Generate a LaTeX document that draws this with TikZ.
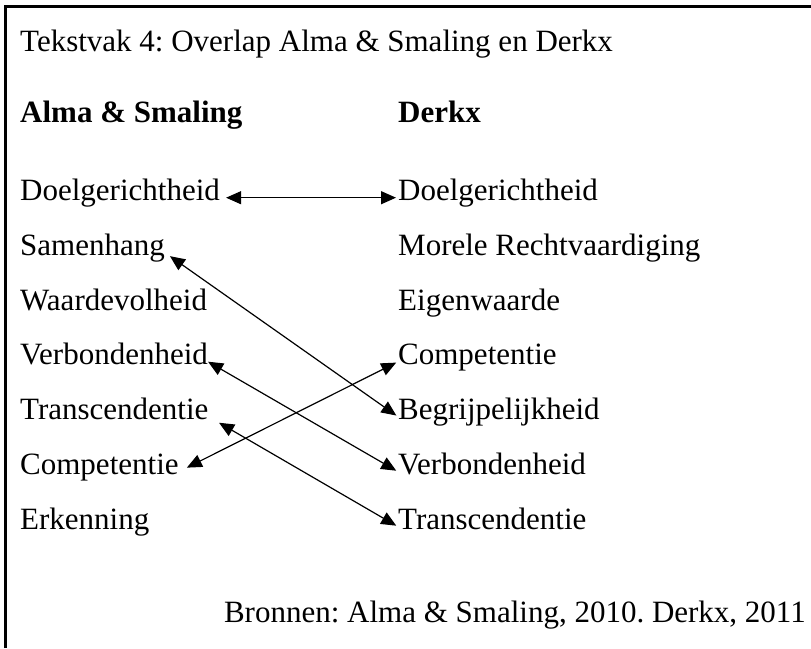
\documentclass[tikz,border=0pt]{standalone}
\usepackage{fontspec}
\setmainfont{Liberation Serif}
\usetikzlibrary{arrows.meta}
\frenchspacing

\begin{document}
\begin{tikzpicture}[x=1pt,y=-1pt,
    woord/.style={
      anchor=base west,
      inner sep=0pt,
      text height=0.68em,
      text depth=0.22em,
      font=\fontsize{31}{36}\selectfont
    },
    kop/.style={
      woord,
      font=\fontsize{31}{36}\selectfont\bfseries
    },
    arr/.style={
      {Triangle[length=15pt,width=13pt]}-{Triangle[length=15pt,width=13pt]},
      line width=1.2pt,
      shorten <=3pt,
      shorten >=2pt
    }
  ]
  \useasboundingbox (0,0) rectangle (811,648);
  \draw[line width=2.2pt] (5.5,648) -- (5.5,6.5) -- (811,6.5);

  \node[woord] (titel) at (20,51) {Tekstvak 4: Overlap Alma \& Smaling en Derkx};
  \node[kop] (kopL) at (20,122) {Alma \& Smaling};
  \node[kop] (kopR) at (398,122) {Derkx};

  % linkerkolom
  \node[woord] (doelL) at (20,200) {Doelgerichtheid};
  \node[woord] (samL)  at (20,255) {Samenhang};
  \node[woord] (waaL)  at (20,310) {Waardevolheid};
  \node[woord] (verL)  at (20,364) {Verbondenheid};
  \node[woord] (traL)  at (20,419) {Transcendentie};
  \node[woord] (comL)  at (20,474) {Competentie};
  \node[woord] (erkL)  at (20,529) {Erkenning};

  % rechterkolom
  \node[woord] (doelR) at (398,200) {Doelgerichtheid};
  \node[woord] (morR)  at (398,255) {Morele Rechtvaardiging};
  \node[woord] (eigR)  at (398,310) {Eigenwaarde};
  \node[woord] (comR)  at (398,364) {Competentie};
  \node[woord] (begR)  at (398,419) {Begrijpelijkheid};
  \node[woord] (verR)  at (398,474) {Verbondenheid};
  \node[woord] (traR)  at (398,529) {Transcendentie};

  \node[woord, anchor=base east] (bron) at (806,622) {Bronnen: Alma \& Smaling, 2010. Derkx, 2011};

  \draw[arr, shorten <=6pt] (doelL.east) -- (doelR.west);
  \draw[arr, shorten <=6pt] (samL.east) -- (begR.west);
  \draw[arr, shorten <=0pt] (verL.east) -- (verR.west);
  \draw[arr, shorten <=12pt] (traL.east) -- (traR.west);
  \draw[arr, shorten <=9pt] (comL.east) -- (comR.west);
\end{tikzpicture}
\end{document}
